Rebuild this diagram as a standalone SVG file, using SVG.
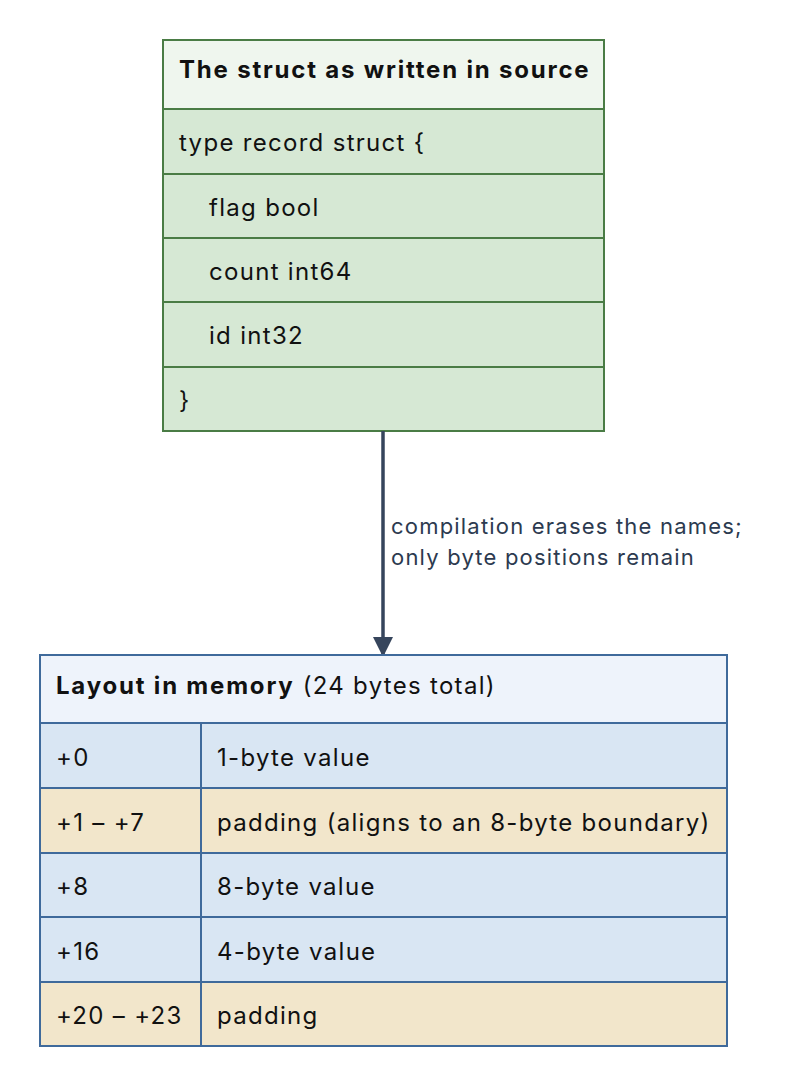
<svg xmlns="http://www.w3.org/2000/svg" width="792" height="1087" viewBox="0 0 792 1087">
<style>
text{font-family:Inter,"Noto Sans",sans-serif;font-size:24px;letter-spacing:1.3px;fill:#111}
.h{font-weight:bold;letter-spacing:1.8px}
.g{stroke:#4a7c45;stroke-width:2}
.b{stroke:#3f6a9b;stroke-width:2}
.gh{fill:#eff6ee}.gr{fill:#d6e8d4}
.bh{fill:#eef3fb}.br{fill:#d9e6f3}.tr{fill:#f2e6cb}
.lbl{font-size:22px;letter-spacing:1.2px;fill:#2c3a4f}
</style>
<defs><marker id="ah" markerWidth="20" markerHeight="28" refX="18" refY="14" orient="auto" markerUnits="userSpaceOnUse"><path d="M0,4 L20,14 L0,24 Z" fill="#36455c"/></marker></defs>
<g id="struct">
<rect class="g gh" x="163" y="40" width="441" height="69"/>
<rect class="g gr" x="163" y="109" width="441" height="65"/>
<rect class="g gr" x="163" y="174" width="441" height="64"/>
<rect class="g gr" x="163" y="238" width="441" height="64"/>
<rect class="g gr" x="163" y="302" width="441" height="65"/>
<rect class="g gr" x="163" y="367" width="441" height="64"/>
<text class="h" x="179" y="78">The struct as written in source</text>
<text x="179" y="151">type record struct {</text>
<text x="209" y="216">flag bool</text>
<text x="209" y="280">count int64</text>
<text x="209" y="344">id int32</text>
<text x="179" y="409">}</text>
</g>
<g id="connectors">
<line x1="383" y1="431" x2="383" y2="655" stroke="#36455c" stroke-width="3.5" marker-end="url(#ah)"/>
<text class="lbl" x="391" y="534">compilation erases the names;</text>
<text class="lbl" x="391" y="565">only byte positions remain</text>
</g>
<g id="layout">
<rect class="b bh" x="40" y="655" width="687" height="68"/>
<rect class="b br" x="40" y="723" width="687" height="65"/>
<rect class="b tr" x="40" y="788" width="687" height="65"/>
<rect class="b br" x="40" y="853" width="687" height="64"/>
<rect class="b br" x="40" y="917" width="687" height="65"/>
<rect class="b tr" x="40" y="982" width="687" height="64"/>
<line class="b" x1="201" y1="723" x2="201" y2="1046"/>
<text x="56" y="694"><tspan class="h">Layout in memory</tspan> (24 bytes total)</text>
<text x="56" y="766">+0</text><text x="217" y="766">1-byte value</text>
<text x="56" y="831">+1 – +7</text><text x="217" y="831">padding (aligns to an 8-byte boundary)</text>
<text x="56" y="895">+8</text><text x="217" y="895">8-byte value</text>
<text x="56" y="960">+16</text><text x="217" y="960">4-byte value</text>
<text x="56" y="1024">+20 – +23</text><text x="217" y="1024">padding</text>
</g>
</svg>
